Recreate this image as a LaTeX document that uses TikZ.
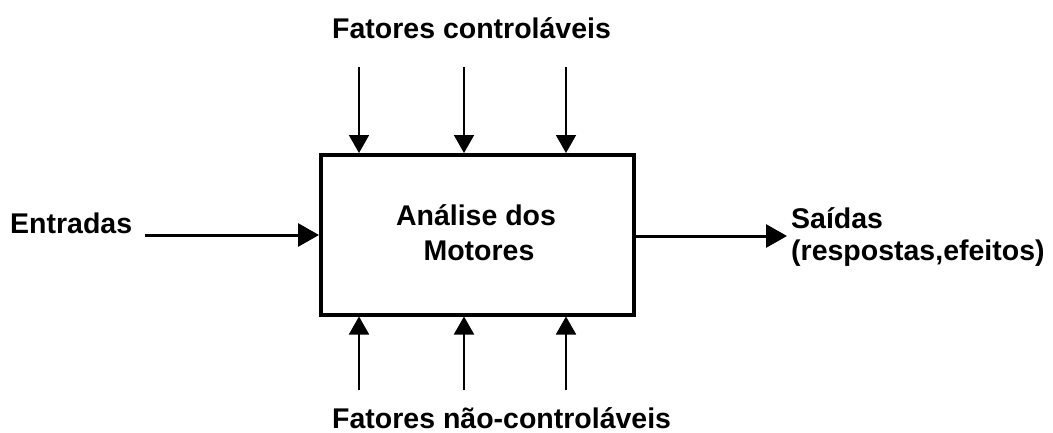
\documentclass[tikz,border=0pt]{standalone}
\usepackage{fontspec}
\setmainfont{Liberation Sans}
\usetikzlibrary{arrows.meta}
\begin{document}
\begin{tikzpicture}[x=1pt,y=-1pt,
  lbl/.style={font=\fontsize{28.5}{34}\selectfont\bfseries, inner sep=0pt},
  varrow/.style={line width=1.8pt,-{Triangle[length=18pt,width=20pt]}},
  harrow/.style={line width=3pt,-{Triangle[length=21pt,width=23pt]}}]
\useasboundingbox (0,0) rectangle (1053,432);
\node[draw, line width=3.5pt, minimum width=313pt, minimum height=160pt, inner sep=0pt, anchor=north west] (box) at (319,153) {};
\node[lbl, anchor=base] (title1) at (476,225) {Análise dos};
\node[lbl, anchor=base] (title2) at (479,260) {Motores};
\node[lbl, anchor=base west] (top) at (332,38) {Fatores controláveis};
\node[lbl, anchor=base west] (bot) at (332,428) {Fatores não-controláveis};
\node[lbl, anchor=base west] (in) at (10,233) {Entradas};
\node[lbl, anchor=base west] (out1) at (791,228) {Saídas};
\node[lbl, anchor=base west] (out2) at (791,260) {(respostas,efeitos)};
\coordinate (t1) at (359,67); \coordinate (t2) at (464,67); \coordinate (t3) at (566,67);
\coordinate (b1) at (359,390); \coordinate (b2) at (464,390); \coordinate (b3) at (566,390);
\coordinate (l0) at (145,235); \coordinate (r1) at (787,236);
\foreach \i in {1,2,3}{
  \draw[varrow] (t\i) -- (t\i |- box.north);
  \draw[varrow] (b\i) -- (b\i |- box.south);
}
\draw[harrow] (l0) -- (l0 -| box.west);
\draw[harrow] (box.east |- r1) -- (r1);
\end{tikzpicture}
\end{document}
